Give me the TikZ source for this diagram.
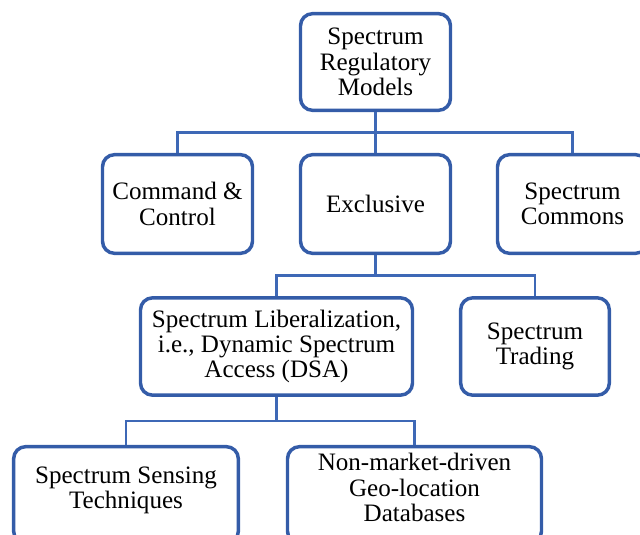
\documentclass[tikz,border=0pt]{standalone}
\usepackage{fontspec}
\setmainfont{Liberation Serif}
\usetikzlibrary{positioning}

\definecolor{boxblue}{RGB}{52,92,168}
\definecolor{lineblue}{RGB}{62,104,182}

\begin{document}
\begin{tikzpicture}[x=0.75pt, y=-0.75pt,
    every node/.style={draw=boxblue, line width=2.6pt, rounded corners=9pt, fill=white,
        align=center, font=\fontsize{18.8}{19.1}\selectfont, inner sep=0pt},
    link/.style={draw=lineblue, line width=1.9pt}]

% ===== Page frame =====
\useasboundingbox (0,0) rectangle (640,535);
\clip (0,0) rectangle (640,535);

% ===== Layout parameters =====
\def\yTop{62}       % centre of the root box
\def\yOne{204}      % first level
\def\yTwo{346.5}    % second level
\def\yThree{495}    % third level (runs off the page)

% ===== Root =====
\node[minimum width=112.5pt, minimum height=72.5pt] (root) at (375.5,\yTop) {Spectrum\\Regulatory\\Models};

% ===== First level =====
\node[minimum width=112.5pt, minimum height=74pt] (cmd) at (177.5,\yOne) {Command \&\\Control};
\node[minimum width=112.5pt, minimum height=74pt] (excl) at (375.5,\yOne) {Exclusive};
\node[minimum width=112.5pt, minimum height=74pt] (commons) at (572.5,\yOne) {Spectrum\\Commons};

% ===== Second level =====
\node[minimum width=204pt, minimum height=73pt] (dsa) at (276.5,\yTwo) {Spectrum Liberalization,\\i.e., Dynamic Spectrum\\Access (DSA)};
\node[minimum width=111.5pt, minimum height=73pt] (trade) at (535,\yTwo) {Spectrum\\Trading};

% ===== Third level =====
\node[minimum width=168.5pt, minimum height=72.5pt, text depth=11pt] (sense) at (126,\yThree) {Spectrum Sensing\\Techniques};
\node[minimum width=190.5pt, minimum height=72.5pt, text depth=11pt] (geo) at (414.5,\yThree) {Non-market-driven\\Geo-location\\Databases};

% ===== Connections =====
\draw[link] (root.south) -- ++(0,20.5) -| (cmd.north);
\draw[link] (root.south) -- ++(0,20.5) -| (commons.north);
\draw[link] (root) -- (excl);

\draw[link] (excl.south) -- ++(0,20.5) -| (dsa.north);
\draw[link] (excl.south) -- ++(0,20.5) -| (trade.north);

\draw[link] (dsa.south) -- ++(0,24) -| (sense.north);
\draw[link] (dsa.south) -- ++(0,24) -| (geo.north);

\end{tikzpicture}
\end{document}
